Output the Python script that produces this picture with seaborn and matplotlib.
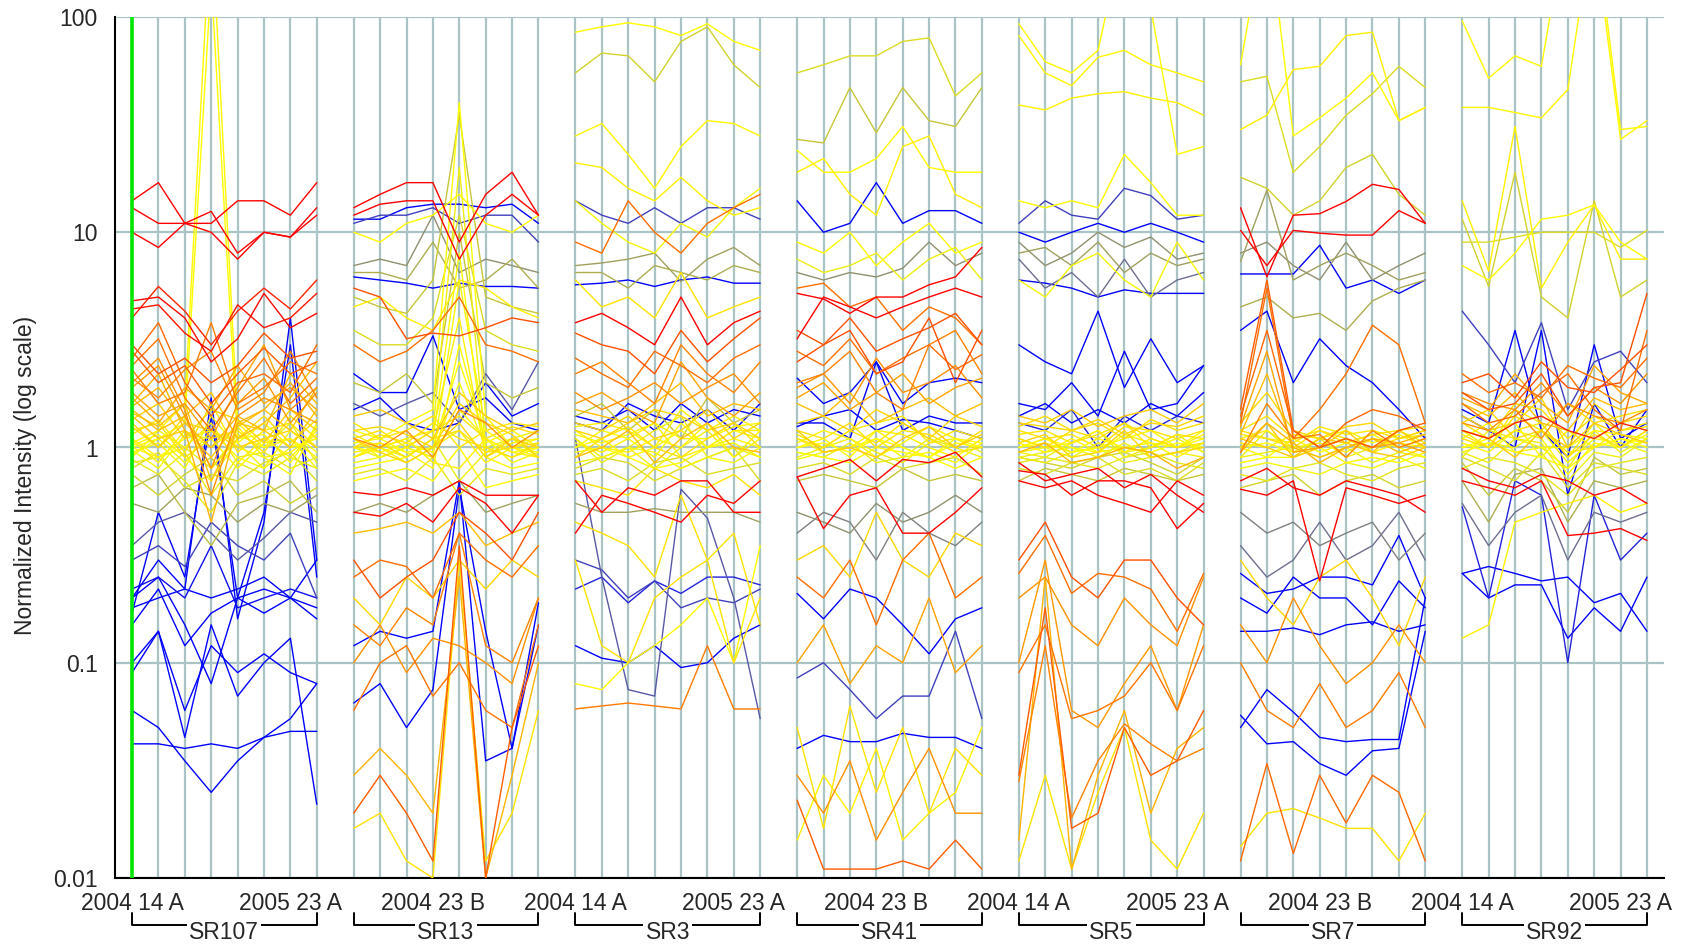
import matplotlib
matplotlib.use("Agg")
import matplotlib.pyplot as plt
import matplotlib.transforms as mtransforms
from matplotlib.colors import LinearSegmentedColormap, LogNorm
from matplotlib.ticker import LogLocator, NullFormatter
import seaborn as sns
import pandas as pd

# ---------------- data ----------------
conditions = ["2004 14 A", "2004 14 B", "2004 23 A", "2004 23 B",
              "2005 14 A", "2005 14 B", "2005 23 A", "2005 23 B"]
samples = ["SR107", "SR13", "SR3", "SR41", "SR5", "SR7", "SR92"]
ytick_values = [0.01, 0.1, 1, 10, 100]
ytick_labels = ["0.01", "0.1", "1", "10", "100"]
# which condition labels are printed under each sample
shown_labels = {"SR107": [0, 6], "SR13": [3], "SR3": [0, 6], "SR41": [3],
                "SR5": [0, 6], "SR7": [3], "SR92": [0, 6]}

# genes are coloured by their value in SR107 / 2004 14 A (the green marker)
SR107_vals = [
    [14, 17, 11, 11, 14, 14, 12, 17],
    [13, 11, 11, 12.5, 8.0, 10, 9.5, 13],
    [10, 8.5, 11, 10, 7.5, 10, 9.5, 12],
    [4.0, 5.6, 4.3, 3.0, 4.3, 5.5, 4.4, 6.0],
    [4.8, 5.0, 4.0, 2.5, 3.2, 5.2, 3.6, 4.2],
    [4.4, 4.6, 3.4, 2.8, 4.6, 3.6, 4.0, 5.2],
    [3.0, 2.2, 2.6, 2.0, 2.4, 3.4, 2.6, 2.8],
    [2.6, 3.8, 2.0, 1.4, 2.0, 2.2, 1.8, 3.0],
    [2.3, 1.6, 1.8, 3.8, 1.6, 1.9, 2.5, 2.2],
    [2.0, 2.6, 1.5, 0.6, 1.4, 1.7, 1.5, 1.9],
    [1.8, 1.4, 1.6, 1.1, 1.9, 3.0, 1.5, 1.3],
    [1.6, 2.2, 1.2, 0.45, 1.3, 1.5, 2.0, 1.4],
    [1.5, 1.2, 1.4, 1.8, 1.1, 1.3, 1.7, 2.5],
    [1.4, 1.1, 1.2, 0.9, 1.3, 1.2, 1.0, 1.5],
    [1.3, 1.0, 1.3, 1.2, 1.0, 1.1, 1.2, 1.0],
    [1.2, 1.3, 0.9, 1.1, 1.2, 0.95, 1.4, 1.1],
    [1.1, 0.9, 1.0, 1.3, 0.85, 1.1, 0.9, 1.2],
    [1.05, 1.2, 1.6, 300, 1.3, 1.0, 1.1, 0.9],
    [1.0, 1.1, 1.3, 150, 1.05, 1.3, 1.0, 1.1],
    [1.0, 0.9, 1.1, 1.2, 0.9, 0.8, 1.2, 0.95],
    [0.95, 1.05, 0.8, 1.4, 1.0, 0.9, 0.75, 1.3],
    [0.9, 1.2, 1.0, 0.8, 1.15, 1.0, 1.3, 0.85],
    [0.85, 0.9, 0.7, 0.5, 0.85, 0.75, 0.9, 0.8],
    [0.75, 0.6, 0.75, 0.9, 0.6, 0.7, 0.55, 0.65],
    [0.65, 0.75, 0.5, 0.35, 0.55, 0.6, 0.7, 0.5],
    [0.55, 0.5, 0.65, 0.6, 0.45, 0.55, 0.5, 0.6],
    [0.2, 0.3, 0.22, 1.7, 0.16, 0.45, 4.0, 0.3],
    [0.17, 0.5, 0.25, 1.4, 0.2, 0.5, 3.0, 0.25],
    [0.35, 0.45, 0.5, 0.4, 0.3, 0.38, 0.5, 0.45],
    [0.3, 0.35, 0.28, 0.45, 0.35, 0.3, 0.4, 0.2],
    [0.22, 0.25, 0.2, 0.35, 0.18, 0.2, 0.22, 0.2],
    [0.2, 0.25, 0.15, 0.08, 0.2, 0.22, 0.2, 0.16],
    [0.18, 0.2, 0.22, 0.2, 0.22, 0.25, 0.2, 0.18],
    [0.15, 0.22, 0.12, 0.17, 0.2, 0.17, 0.2, 0.3],
    [0.1, 0.14, 0.06, 0.12, 0.09, 0.11, 0.09, 0.08],
    [0.09, 0.14, 0.045, 0.15, 0.07, 0.1, 0.13, 0.022],
    [0.06, 0.05, 0.035, 0.025, 0.035, 0.045, 0.055, 0.08],
    [0.042, 0.042, 0.04, 0.042, 0.04, 0.045, 0.048, 0.048],
    # dense core
    [2.8, 2.0, 2.4, 1.6, 2.2, 2.9, 2.2, 2.5],
    [2.4, 3.2, 1.7, 1.2, 1.8, 2.6, 1.6, 2.1],
    [2.1, 1.7, 2.3, 2.8, 1.5, 1.8, 2.8, 1.7],
    [1.9, 2.4, 1.4, 0.8, 1.6, 2.1, 1.3, 1.8],
    [1.7, 1.3, 1.9, 1.5, 2.4, 1.6, 1.9, 1.5],
    [1.55, 1.9, 1.3, 1.0, 1.4, 1.2, 2.2, 1.6],
    [1.45, 1.25, 1.6, 0.7, 1.25, 1.5, 1.2, 1.9],
    [1.35, 1.6, 1.1, 1.5, 1.35, 1.05, 1.5, 1.2],
    [1.25, 1.0, 1.4, 0.8, 1.1, 1.4, 1.05, 1.35],
    [1.15, 1.35, 0.95, 1.6, 0.95, 1.2, 1.3, 1.0],
    [1.08, 0.85, 1.2, 1.0, 1.25, 0.9, 0.95, 1.15],
    [1.02, 1.15, 0.9, 0.7, 1.1, 1.15, 0.85, 1.25],
    [0.97, 0.8, 1.15, 1.1, 0.8, 1.05, 1.1, 0.8],
    [0.92, 1.1, 0.85, 1.2, 1.05, 0.8, 1.0, 1.1],
    [0.88, 0.75, 0.95, 0.6, 0.9, 0.95, 0.8, 0.9],
    [0.8, 0.95, 0.65, 0.75, 0.7, 0.85, 0.95, 0.7],
]
SR107_ref = [v[0] for v in SR107_vals]

SR13_ref = [14, 12, 0.15, 0.3, 0.5, 0.6, 0.12, 0.7, 1.0, 0.9, 0.8, 0.1, 0.2, 0.35,
            2.0, 1.2, 1.1, 1.3, 0.95, 5, 6, 0.55, 1.5, 2.5, 2.2, 0.09, 0.12, 2.8,
            1.6, 1.2, 2.0, 2.4, 1.3, 3.0, 1.0, 1.1, 2.5, 3.0,
            1.0, 1.1, 0.95, 1.2, 1.05, 0.9, 1.3, 1.0, 1.15, 0.85, 1.4, 1.0, 0.98,
            1.1, 0.7, 1.2]
SR13_vals = [
    [13, 15, 17, 17, 9, 15, 19, 12],
    [12, 13.5, 14, 14, 7.5, 12, 15, 12],
    [11.5, 11.5, 13, 13.5, 13.5, 13, 13.5, 11],
    [11, 12, 12, 13, 11, 12, 12, 9],
    [7, 7.5, 7, 12, 6.5, 7.5, 7, 6.5],
    [6.5, 6.5, 6, 9, 5.5, 6, 7.5, 5.5],
    [6.2, 6, 5.8, 5.5, 5.8, 5.6, 5.6, 5.5],
    [5, 4.5, 4.2, 6, 35, 5, 4.5, 4.2],
    [1.2, 1.1, 1.3, 1.5, 40, 1.4, 1.0, 1.1],
    [1.0, 0.9, 1.0, 1.2, 20, 1.0, 1.1, 0.9],
    [3.5, 3, 3, 4, 12, 3.5, 3, 2.8],
    [2.2, 1.8, 1.8, 3.3, 1.5, 1.7, 1.3, 1.2],
    [1.5, 1.7, 1.3, 1.2, 1.3, 2.0, 1.4, 1.6],
    [1.6, 1.4, 1.6, 1.8, 1.3, 2.2, 1.5, 2.5],
    [1.1, 1.0, 1.2, 0.9, 1.5, 1.3, 1.0, 1.2],
    [1.0, 1.05, 0.9, 1.1, 1.2, 0.95, 1.0, 1.05],
    [0.9, 1.0, 1.1, 0.85, 0.8, 1.1, 0.95, 0.9],
    [1.1, 0.95, 0.85, 1.0, 1.3, 0.9, 1.1, 1.0],
    [0.85, 0.9, 1.0, 0.9, 1.5, 1.1, 0.85, 0.95],
    [0.62, 0.6, 0.65, 0.6, 0.7, 0.6, 0.6, 0.6],
    [0.5, 0.48, 0.55, 0.45, 0.65, 0.55, 0.4, 0.6],
    [0.5, 0.55, 0.5, 0.6, 0.7, 0.5, 0.55, 0.6],
    [0.4, 0.42, 0.45, 0.4, 0.5, 0.35, 0.4, 0.45],
    [0.25, 0.3, 0.28, 0.2, 0.4, 0.3, 0.25, 0.35],
    [0.15, 0.12, 0.18, 0.15, 0.4, 0.12, 0.1, 0.2],
    [0.065, 0.08, 0.05, 0.075, 0.65, 0.14, 0.04, 0.19],
    [0.12, 0.14, 0.13, 0.14, 0.7, 0.035, 0.04, 0.15],
    [0.02, 0.03, 0.02, 0.012, 0.35, 0.01, 0.05, 0.12],
    [0.03, 0.04, 0.03, 0.02, 0.25, 0.01, 0.03, 0.1],
    [0.017, 0.02, 0.012, 0.01, 0.3, 0.012, 0.02, 0.06],
    [0.1, 0.15, 0.09, 0.13, 0.12, 0.1, 0.08, 0.2],
    [0.06, 0.1, 0.12, 0.07, 0.1, 0.06, 0.05, 0.15],
    [0.2, 0.15, 0.25, 0.2, 0.3, 0.22, 0.3, 0.25],
    [0.3, 0.2, 0.25, 0.3, 0.5, 0.4, 0.3, 0.5],
    [10, 9, 11, 12, 15, 11, 10, 12],
    [4.5, 5, 4, 3.5, 6, 5.5, 4.5, 4],
    [3, 2.5, 2.8, 3.5, 5, 3, 2.8, 2.5],
    [5.5, 5, 3.2, 3.4, 3.3, 3.6, 4, 3.8],
    # dense core
    [1.05, 1.1, 0.95, 1.0, 2.5, 1.1, 0.95, 1.0],
    [0.95, 1.0, 1.1, 1.2, 4.0, 0.9, 1.05, 1.1],
    [1.1, 0.9, 1.0, 0.9, 6.0, 1.2, 1.0, 0.95],
    [1.0, 1.15, 1.05, 1.3, 1.1, 1.0, 0.9, 1.05],
    [0.9, 1.05, 0.95, 0.8, 3.0, 1.05, 1.2, 1.0],
    [1.15, 1.0, 0.9, 1.1, 0.7, 0.95, 1.1, 1.2],
    [1.2, 1.25, 1.15, 1.0, 1.6, 1.3, 1.15, 0.9],
    [0.8, 0.85, 0.9, 1.1, 8.0, 0.9, 0.8, 0.85],
    [1.3, 1.1, 1.2, 1.4, 1.0, 1.2, 1.3, 1.25],
    [0.75, 0.8, 0.7, 0.9, 0.6, 0.8, 0.75, 0.8],
    [1.4, 1.5, 1.3, 1.1, 1.8, 1.4, 1.2, 1.3],
    [0.7, 0.75, 0.8, 0.7, 1.0, 0.65, 0.7, 0.75],
    [1.0, 0.95, 1.05, 0.95, 2.0, 1.0, 0.9, 1.0],
    [0.9, 1.0, 0.85, 1.0, 1.2, 0.85, 1.0, 0.9],
    [2.0, 1.8, 2.2, 1.6, 10, 2.0, 1.7, 1.9],
    [1.1, 1.2, 1.0, 1.2, 1.4, 1.1, 1.25, 1.15],
]

SR3_ref = [1.0, 0.75, 1.05, 1.1, 0.95, 0.3, 2.5, 0.55, 0.6, 0.15, 1.2, 5, 3, 2.2,
           0.12, 0.2, 1.3, 1.0, 0.9, 1.5, 1.1, 0.8, 6, 8, 0.55, 1.2, 0.25, 0.3,
           0.12, 0.35, 1.0, 1.2, 2.3,
           1.0, 1.1, 1.2, 0.9, 1.3, 1.5, 1.8, 2.0, 1.0, 0.95, 1.05, 0.8, 1.1,
           2.5, 1.2, 0.7]
SR3_vals = [
    [85, 90, 94, 90, 82, 93, 77, 70],
    [55, 68, 66, 50, 77, 90, 60, 47],
    [28, 32, 23, 16, 25, 33, 32, 28],
    [21, 20, 16, 14, 18, 14, 12, 13],
    [14, 11, 9, 8, 11, 9.5, 13, 16],
    [14, 12, 11, 13, 11, 13, 13, 11.5],
    [9, 8, 14, 10, 8, 11, 13, 15],
    [7, 7.2, 7.5, 8, 5.9, 7.5, 8.5, 7],
    [6.5, 6.5, 5.5, 7, 6.5, 6, 7, 6.5],
    [5.7, 5.8, 6, 5.6, 6, 6.2, 5.8, 5.8],
    [6, 4.5, 5, 4, 6.5, 4, 4.5, 5],
    [3.8, 4.2, 3.6, 3.0, 5.0, 3.0, 3.8, 4.3],
    [3.4, 3.0, 2.8, 2.2, 3.5, 2.5, 3.2, 4.0],
    [2.2, 2.5, 2.0, 1.6, 3.0, 2.2, 1.8, 2.5],
    [1.4, 1.3, 1.5, 1.2, 1.6, 1.3, 1.5, 1.4],
    [1.3, 1.2, 1.6, 1.4, 1.3, 1.5, 1.2, 1.6],
    [1.2, 1.1, 1.3, 1.5, 1.4, 1.2, 1.3, 1.1],
    [1.0, 1.1, 0.9, 1.0, 1.2, 1.0, 1.1, 1.0],
    [1.1, 0.9, 1.0, 0.8, 1.0, 1.2, 0.9, 1.1],
    [0.9, 1.0, 1.2, 0.85, 1.1, 1.3, 1.0, 0.95],
    [1.05, 0.95, 1.1, 1.3, 0.9, 1.0, 1.2, 1.2],
    [0.8, 0.9, 0.85, 0.7, 0.8, 0.9, 1.0, 0.7],
    [0.7, 0.5, 0.65, 0.6, 0.7, 0.7, 0.5, 0.5],
    [0.4, 0.6, 0.55, 0.5, 0.45, 0.6, 0.55, 0.7],
    [0.55, 0.5, 0.5, 0.52, 0.5, 0.5, 0.5, 0.45],
    [0.45, 0.4, 0.35, 0.25, 0.6, 0.3, 0.4, 0.15],
    [0.22, 0.25, 0.19, 0.24, 0.21, 0.25, 0.25, 0.23],
    [0.3, 0.27, 0.2, 0.24, 0.18, 0.2, 0.19, 0.22],
    [0.12, 0.105, 0.1, 0.12, 0.095, 0.1, 0.13, 0.15],
    [1.1, 0.25, 0.075, 0.07, 0.64, 0.47, 0.2, 0.055],
    [0.08, 0.075, 0.1, 0.12, 0.15, 0.2, 0.1, 0.35],
    [0.3, 0.12, 0.1, 0.2, 0.25, 0.3, 0.1, 0.2],
    [0.061, 0.063, 0.065, 0.063, 0.061, 0.12, 0.061, 0.061],
    # dense core
    [1.0, 1.2, 1.1, 0.9, 1.3, 1.0, 1.2, 1.1],
    [1.2, 1.0, 0.95, 1.1, 1.0, 1.3, 0.9, 1.2],
    [0.9, 1.1, 1.25, 1.0, 0.9, 1.1, 1.3, 1.0],
    [1.1, 0.85, 1.0, 1.2, 1.4, 0.9, 1.0, 0.9],
    [1.3, 1.2, 1.4, 1.1, 1.2, 1.5, 1.1, 1.3],
    [1.5, 1.4, 1.3, 1.6, 2.0, 1.4, 1.6, 1.5],
    [1.6, 1.8, 1.5, 1.3, 2.5, 1.7, 1.4, 1.8],
    [1.8, 1.5, 1.7, 2.0, 1.6, 1.9, 2.2, 1.6],
    [0.95, 1.0, 0.9, 0.8, 0.85, 1.0, 1.05, 0.9],
    [0.85, 0.9, 1.0, 0.95, 0.8, 0.9, 0.85, 1.0],
    [1.15, 1.05, 1.15, 1.3, 1.1, 1.1, 1.25, 1.3],
    [0.75, 0.8, 0.7, 0.85, 0.9, 0.75, 0.8, 0.85],
    [1.25, 1.3, 1.2, 1.0, 1.5, 1.2, 1.4, 1.2],
    [2.6, 2.2, 1.9, 2.8, 2.4, 2.0, 2.6, 3.0],
    [0.7, 0.65, 0.6, 0.8, 0.7, 0.65, 0.75, 0.6],
    [1.4, 1.6, 1.2, 1.5, 1.1, 1.7, 1.3, 1.5],
]

SR41_ref = [0.8, 0.7, 1.0, 1.1, 0.15, 1.0, 0.9, 0.5, 5, 6, 2.5, 3, 2.2, 0.12,
            0.18, 0.2, 1.2, 1.0, 0.9, 1.4, 7, 8, 0.5, 0.45, 1.3, 2.5, 0.15, 0.3,
            0.12, 1.8, 1.2, 2.8, 1.1, 2.0,
            1.0, 1.1, 0.9, 1.2, 1.3, 1.5, 2.0, 2.5, 1.0, 0.8, 1.05, 0.95, 1.15,
            3.0, 1.8, 0.7]
SR41_vals = [
    [55, 60, 66, 66, 77, 80, 43, 55],
    [27, 26, 47, 29, 47, 33, 31, 47],
    [24, 19, 19, 22, 31, 20, 19, 19],
    [19, 22, 15, 12, 25, 28, 15, 13],
    [14, 10, 11, 17, 11, 12.6, 12.6, 11],
    [9, 8, 10, 7, 9, 11, 8, 9],
    [7.5, 6.5, 7, 8, 6, 7.5, 8.5, 6],
    [6.5, 6, 6.5, 6.2, 6.8, 9, 7, 8],
    [5.2, 4.9, 4.2, 5.0, 5.0, 5.7, 6.2, 8.5],
    [3.2, 5.0, 4.5, 4.0, 4.5, 5.0, 5.5, 5.0],
    [5.5, 5.8, 4.5, 5, 3.5, 4.5, 4, 3],
    [2.5, 3.0, 3.5, 2.2, 2.5, 4.0, 2.0, 3.5],
    [2.0, 2.2, 2.8, 1.8, 1.5, 3.0, 3.5, 2.2],
    [2.1, 1.6, 1.8, 2.5, 1.6, 2.0, 2.1, 2.0],
    [1.3, 1.3, 1.1, 2.5, 1.2, 1.4, 1.3, 1.3],
    [1.25, 1.4, 1.5, 1.2, 1.35, 1.3, 1.2, 1.1],
    [1.1, 1.0, 1.2, 1.05, 1.3, 1.1, 0.95, 1.0],
    [1.0, 1.1, 0.9, 1.2, 1.0, 0.9, 1.1, 1.05],
    [0.95, 0.9, 1.05, 0.85, 0.9, 1.1, 1.0, 0.9],
    [1.2, 0.95, 1.0, 0.9, 1.1, 1.25, 1.0, 1.15],
    [0.73, 0.8, 0.88, 0.7, 0.88, 0.85, 0.95, 0.73],
    [0.73, 0.42, 0.6, 0.65, 0.4, 0.4, 0.5, 0.65],
    [0.5, 0.45, 0.4, 0.55, 0.45, 0.5, 0.6, 0.5],
    [0.4, 0.5, 0.45, 0.3, 0.5, 0.4, 0.35, 0.45],
    [0.3, 0.35, 0.25, 0.5, 0.3, 0.25, 0.4, 0.35],
    [0.25, 0.2, 0.3, 0.15, 0.3, 0.4, 0.2, 0.25],
    [0.21, 0.16, 0.22, 0.2, 0.15, 0.11, 0.16, 0.18],
    [0.085, 0.1, 0.075, 0.055, 0.07, 0.07, 0.14, 0.055],
    [0.04, 0.046, 0.043, 0.043, 0.047, 0.045, 0.045, 0.04],
    [0.1, 0.15, 0.08, 0.12, 0.1, 0.2, 0.09, 0.12],
    [0.05, 0.017, 0.063, 0.025, 0.05, 0.02, 0.04, 0.03],
    [0.023, 0.011, 0.011, 0.011, 0.012, 0.011, 0.015, 0.011],
    [0.015, 0.03, 0.02, 0.04, 0.015, 0.02, 0.025, 0.05],
    [0.03, 0.02, 0.035, 0.015, 0.025, 0.04, 0.02, 0.02],
    # dense core
    [1.0, 1.05, 0.95, 1.1, 1.0, 0.9, 1.05, 1.0],
    [1.1, 0.95, 1.0, 1.2, 1.15, 1.0, 0.9, 1.1],
    [0.9, 1.0, 1.1, 0.95, 0.85, 1.05, 1.1, 0.95],
    [1.2, 1.1, 1.3, 1.0, 1.2, 1.15, 1.0, 1.2],
    [1.3, 1.4, 1.2, 1.5, 1.3, 1.1, 1.4, 1.25],
    [1.6, 1.4, 1.8, 1.3, 1.5, 1.7, 1.4, 1.6],
    [1.9, 2.2, 1.6, 2.6, 1.8, 2.0, 2.4, 1.7],
    [2.8, 2.4, 3.2, 2.2, 2.6, 3.0, 2.3, 2.7],
    [0.95, 0.9, 0.85, 1.0, 0.95, 0.9, 0.8, 0.9],
    [0.8, 0.85, 0.75, 0.9, 0.8, 0.85, 0.9, 0.75],
    [1.05, 1.2, 1.1, 0.9, 1.05, 1.25, 1.1, 1.0],
    [0.88, 0.95, 1.0, 1.1, 0.9, 0.95, 0.85, 1.05],
    [1.15, 1.0, 1.2, 1.3, 1.4, 1.05, 1.2, 1.1],
    [3.5, 3.0, 4.0, 2.8, 3.2, 3.6, 4.2, 3.0],
    [1.7, 2.0, 1.5, 1.8, 2.2, 1.6, 1.9, 2.1],
    [0.7, 0.75, 0.7, 0.65, 0.8, 0.7, 0.75, 0.7],
]

SR5_ref = [1.0, 1.05, 1.1, 1.0, 0.95, 0.3, 0.2, 0.5, 0.55, 0.4, 0.15, 0.18, 0.12,
           0.2, 0.25, 1.2, 1.0, 0.9, 1.3, 0.75, 6, 8, 5, 2.5, 3, 2.0, 2.8, 2.2,
           1.6, 2.4, 1.2, 1.9,
           1.0, 1.1, 0.9, 1.2, 1.3, 0.95, 1.05, 1.15, 0.85, 0.8, 1.4, 1.0, 1.25,
           0.9, 1.6, 0.7]
SR5_vals = [
    [93, 62, 55, 70, 250, 110, 23, 25],
    [82, 55, 48, 65, 70, 60, 55, 50],
    [39, 37, 42, 44, 45, 42, 40, 35],
    [14, 13, 14, 13, 23, 17, 12, 12],
    [6, 5, 7, 8, 6, 5, 9, 6],
    [11, 14, 12, 11.5, 16, 14.8, 11.5, 12],
    [10, 9, 10, 11, 10, 11, 10, 9],
    [9, 7, 8, 10, 8.5, 9.5, 7.5, 8],
    [8, 8.5, 7, 9, 6.5, 8, 7, 7.5],
    [7.5, 5.5, 6.5, 5, 7.5, 5, 6, 6.5],
    [6, 5.8, 5.5, 5, 5.4, 5.2, 5.2, 5.2],
    [3.0, 2.5, 2.2, 4.3, 1.9, 3.2, 2.0, 2.4],
    [1.6, 1.5, 2.0, 1.4, 2.8, 1.5, 1.6, 2.4],
    [1.4, 1.6, 1.3, 1.5, 1.3, 1.6, 1.4, 1.8],
    [1.3, 1.2, 1.5, 1.0, 1.4, 1.2, 1.4, 1.3],
    [1.1, 1.0, 1.2, 1.1, 1.3, 1.1, 1.0, 1.05],
    [1.0, 1.1, 0.95, 1.0, 1.1, 1.2, 1.0, 1.1],
    [0.95, 0.9, 1.05, 1.2, 0.9, 1.0, 1.15, 0.95],
    [1.05, 1.15, 0.9, 0.95, 1.2, 0.9, 0.95, 1.0],
    [0.9, 0.85, 0.8, 0.9, 0.95, 0.85, 0.75, 0.9],
    [0.78, 0.75, 0.6, 0.7, 0.7, 0.65, 0.42, 0.55],
    [0.7, 0.65, 0.7, 0.6, 0.55, 0.5, 0.7, 0.6],
    [0.85, 0.7, 0.75, 0.8, 0.65, 0.75, 0.6, 0.5],
    [0.26, 0.39, 0.21, 0.26, 0.25, 0.22, 0.14, 0.26],
    [0.3, 0.45, 0.25, 0.2, 0.3, 0.3, 0.2, 0.15],
    [0.2, 0.25, 0.15, 0.12, 0.2, 0.15, 0.12, 0.25],
    [0.03, 0.18, 0.017, 0.02, 0.05, 0.03, 0.035, 0.06],
    [0.028, 0.12, 0.019, 0.035, 0.052, 0.042, 0.035, 0.04],
    [0.015, 0.25, 0.011, 0.03, 0.06, 0.02, 0.04, 0.05],
    [0.09, 0.15, 0.055, 0.06, 0.07, 0.1, 0.06, 0.12],
    [0.012, 0.03, 0.011, 0.025, 0.05, 0.015, 0.011, 0.02],
    [0.1, 0.3, 0.06, 0.05, 0.08, 0.12, 0.06, 0.15],
    # dense core
    [1.0, 1.05, 0.95, 1.1, 1.0, 0.95, 1.05, 1.0],
    [1.1, 1.0, 1.05, 1.2, 0.95, 1.1, 1.0, 1.15],
    [0.9, 0.95, 1.0, 0.9, 1.05, 0.9, 0.95, 0.9],
    [1.2, 1.1, 1.15, 1.0, 1.25, 1.2, 1.1, 1.2],
    [1.3, 1.25, 1.2, 1.35, 1.15, 1.3, 1.25, 1.4],
    [0.95, 1.0, 0.9, 1.05, 0.95, 1.0, 1.1, 0.95],
    [1.05, 0.95, 1.1, 0.95, 1.0, 1.05, 0.9, 1.05],
    [1.15, 1.2, 1.05, 1.15, 1.3, 1.0, 1.15, 1.1],
    [0.85, 0.9, 0.85, 0.8, 0.9, 0.95, 0.85, 0.8],
    [0.8, 0.75, 0.85, 0.9, 0.75, 0.8, 0.7, 0.85],
    [1.4, 1.3, 1.5, 1.25, 1.4, 1.5, 1.3, 1.6],
    [1.0, 1.1, 1.0, 0.95, 1.15, 1.05, 1.0, 1.2],
    [1.25, 1.4, 1.2, 1.3, 1.1, 1.35, 1.2, 1.3],
    [0.9, 0.85, 0.95, 1.0, 0.85, 0.9, 0.95, 1.05],
    [0.95, 1.05, 0.85, 0.9, 1.0, 0.95, 0.8, 0.9],
    [0.7, 0.8, 0.75, 0.7, 0.8, 0.75, 0.7, 0.75],
]

SR7_ref = [0.8, 1.0, 1.1, 0.75, 14, 12, 0.55, 0.5, 0.15, 0.2, 2.8, 2.5, 0.6, 1.2,
           1.0, 0.9, 1.4, 1.6, 6, 7, 0.45, 0.4, 0.15, 0.12, 0.18, 0.09, 0.1, 2.6,
           1.2, 2.0, 1.3, 2.3,
           1.0, 1.1, 0.9, 1.2, 1.3, 1.5, 1.8, 2.2, 1.0, 0.95, 1.05, 0.85, 1.15,
           2.6, 1.4, 0.75]
SR7_vals = [
    [50, 53, 19, 25, 35, 44, 59, 47],
    [60, 300, 28, 34, 42, 55, 33, 38],
    [30, 35, 57, 59, 82, 85, 33, 38],
    [18, 16, 12, 14, 20, 23, 15, 12],
    [13, 6.2, 12, 12.2, 13.9, 16.7, 15.8, 11],
    [10.2, 7.0, 10.2, 9.9, 9.7, 9.7, 12.6, 11],
    [7.3, 15.7, 6, 7, 8, 7, 6, 6.5],
    [8, 9, 7, 6, 9, 6, 7, 8],
    [6.4, 6.4, 6.4, 8.7, 5.5, 6.0, 5.2, 6.0],
    [3.5, 4.3, 2.0, 3.2, 2.4, 2.0, 1.5, 1.1],
    [1.5, 6.0, 1.2, 1.0, 1.1, 1.0, 1.2, 1.3],
    [1.3, 5.5, 1.1, 1.5, 2.2, 3.7, 3.0, 1.3],
    [4.5, 5, 4, 4.2, 3.5, 4.8, 5.5, 6],
    [1.2, 1.1, 1.0, 1.2, 1.1, 1.0, 1.1, 1.2],
    [1.0, 0.9, 1.1, 0.95, 1.05, 1.15, 1.0, 0.9],
    [0.9, 1.2, 0.95, 1.1, 0.9, 1.0, 1.2, 1.05],
    [1.1, 1.0, 0.9, 1.0, 1.2, 0.95, 0.9, 1.0],
    [0.95, 1.3, 1.05, 0.85, 1.0, 1.1, 1.05, 1.15],
    [0.64, 0.6, 0.7, 0.24, 0.65, 0.6, 0.55, 0.6],
    [0.7, 0.8, 0.65, 0.6, 0.7, 0.65, 0.6, 0.5],
    [0.5, 0.4, 0.45, 0.35, 0.4, 0.45, 0.3, 0.4],
    [0.35, 0.25, 0.3, 0.45, 0.3, 0.35, 0.5, 0.3],
    [0.26, 0.21, 0.22, 0.25, 0.25, 0.23, 0.39, 0.2],
    [0.14, 0.14, 0.145, 0.135, 0.15, 0.155, 0.14, 0.15],
    [0.2, 0.17, 0.25, 0.2, 0.2, 0.15, 0.24, 0.18],
    [0.057, 0.042, 0.043, 0.034, 0.03, 0.039, 0.04, 0.14],
    [0.05, 0.075, 0.059, 0.045, 0.043, 0.044, 0.044, 0.2],
    [0.012, 0.034, 0.013, 0.03, 0.018, 0.03, 0.025, 0.012],
    [0.014, 0.02, 0.021, 0.019, 0.017, 0.017, 0.012, 0.02],
    [0.15, 0.1, 0.2, 0.12, 0.08, 0.1, 0.15, 0.1],
    [0.3, 0.2, 0.15, 0.25, 0.3, 0.2, 0.12, 0.25],
    [0.1, 0.06, 0.05, 0.08, 0.05, 0.06, 0.09, 0.05],
    # dense core
    [1.0, 1.05, 0.95, 1.0, 1.1, 0.95, 1.05, 1.0],
    [1.1, 1.2, 1.0, 1.05, 0.95, 1.1, 1.0, 1.1],
    [0.9, 0.95, 1.0, 0.9, 1.0, 0.85, 0.95, 0.9],
    [1.2, 1.4, 1.1, 1.2, 1.05, 1.15, 1.2, 1.25],
    [1.3, 1.8, 1.2, 1.1, 1.25, 1.3, 1.1, 1.2],
    [1.15, 2.2, 1.0, 0.9, 1.0, 1.1, 0.95, 1.05],
    [1.25, 2.8, 0.95, 1.0, 1.1, 1.0, 1.05, 0.95],
    [0.95, 1.6, 1.1, 1.15, 0.9, 1.2, 1.0, 1.1],
    [0.85, 0.9, 0.9, 1.0, 0.85, 0.9, 0.85, 0.95],
    [0.8, 0.85, 0.8, 0.75, 0.85, 0.8, 0.9, 0.8],
    [1.05, 1.0, 1.15, 1.1, 1.2, 1.05, 1.15, 1.0],
    [0.75, 0.7, 0.8, 0.85, 0.75, 0.7, 0.8, 0.85],
    [1.15, 1.1, 1.05, 1.25, 1.15, 1.2, 1.1, 1.15],
    [1.4, 3.5, 1.2, 1.0, 1.3, 1.5, 1.4, 1.2],
    [1.0, 1.3, 0.9, 1.1, 1.05, 0.95, 1.2, 1.0],
    [0.65, 0.7, 0.75, 0.6, 0.7, 0.75, 0.65, 0.7],
]

SR92_ref = [1.0, 1.05, 1.1, 0.75, 0.8, 1.0, 0.3, 0.15, 0.2, 3, 2.5, 2.0, 1.2, 1.0,
            0.9, 1.4, 0.7, 0.6, 6, 5, 0.18, 0.12, 0.25, 1.1, 0.4,
            1.0, 1.1, 0.9, 1.2, 1.3, 1.5, 2.0, 2.5, 3.0, 1.0, 0.95, 1.05, 0.85,
            1.15, 1.7, 0.8, 4.0, 1.25]
SR92_vals = [
    [96, 52, 66, 59, 300, 250, 27, 33],
    [38, 38, 36, 34, 46, 300, 30, 31],
    [14, 6.6, 31, 5.5, 9, 13.4, 7.5, 7.5],
    [11.5, 5.6, 19, 5, 4, 14, 5, 6],
    [9, 9, 9.5, 10, 10, 10, 8.5, 10.2],
    [7, 6, 8, 11.5, 12, 13.4, 9, 7.5],
    [4.3, 3.0, 2.0, 3.8, 1.5, 2.5, 2.8, 2.0],
    [1.5, 1.3, 3.5, 1.2, 0.9, 3.0, 1.1, 1.3],
    [1.4, 1.2, 1.0, 3.5, 0.6, 1.6, 1.0, 1.5],
    [1.8, 1.5, 1.6, 2.2, 1.4, 1.9, 2.0, 5.2],
    [1.6, 1.3, 1.4, 1.8, 2.2, 1.5, 1.2, 3.5],
    [1.3, 1.2, 1.5, 1.1, 1.6, 1.4, 1.3, 1.5],
    [1.1, 1.0, 1.2, 1.3, 0.9, 1.15, 1.0, 1.2],
    [1.0, 1.05, 0.95, 0.9, 0.8, 1.0, 1.1, 1.0],
    [0.95, 0.85, 1.1, 1.05, 0.7, 0.95, 0.9, 1.1],
    [1.2, 1.1, 0.9, 1.2, 1.0, 1.3, 1.15, 1.05],
    [0.85, 0.6, 0.8, 0.7, 0.5, 0.9, 0.75, 0.8],
    [0.7, 0.45, 0.75, 0.8, 0.45, 0.7, 0.65, 0.7],
    [0.7, 0.65, 0.6, 0.7, 0.39, 0.4, 0.42, 0.37],
    [0.8, 0.7, 0.65, 0.75, 0.7, 0.6, 0.65, 0.55],
    [0.26, 0.28, 0.26, 0.24, 0.25, 0.19, 0.21, 0.14],
    [0.26, 0.2, 0.23, 0.23, 0.13, 0.18, 0.14, 0.25],
    [0.53, 0.2, 0.7, 0.6, 0.1, 0.6, 0.3, 0.4],
    [0.13, 0.15, 0.45, 0.5, 0.55, 0.6, 0.5, 0.55],
    [0.55, 0.35, 0.5, 0.6, 0.3, 0.5, 0.45, 0.5],
    # dense core
    [1.0, 1.1, 1.3, 0.9, 1.2, 1.0, 1.1, 1.05],
    [1.2, 1.0, 1.5, 1.3, 0.9, 1.3, 1.0, 1.2],
    [0.9, 1.2, 1.1, 1.0, 0.8, 1.2, 0.95, 1.1],
    [1.3, 1.1, 1.6, 1.5, 1.1, 1.4, 1.2, 1.3],
    [1.4, 1.2, 1.3, 1.7, 1.0, 1.6, 1.3, 1.4],
    [1.6, 1.4, 1.8, 1.3, 1.2, 1.7, 1.5, 1.6],
    [1.8, 1.6, 1.5, 2.0, 1.4, 1.9, 1.6, 2.2],
    [2.2, 1.8, 2.0, 1.7, 2.4, 2.1, 1.9, 2.6],
    [2.0, 2.2, 1.7, 2.5, 1.9, 1.8, 2.3, 3.0],
    [1.05, 0.95, 1.2, 1.1, 0.75, 1.05, 1.0, 1.15],
    [0.95, 1.05, 1.0, 1.2, 0.85, 1.1, 1.05, 0.95],
    [1.1, 1.3, 0.95, 1.0, 1.0, 1.2, 1.15, 1.1],
    [0.8, 0.9, 0.85, 0.75, 0.6, 0.8, 0.85, 0.9],
    [1.15, 1.0, 1.4, 1.2, 0.95, 1.0, 1.2, 1.25],
    [1.7, 1.5, 2.2, 1.6, 1.3, 2.4, 1.8, 1.6],
    [0.9, 0.8, 0.7, 0.95, 0.65, 0.85, 0.8, 0.75],
    [1.2, 1.1, 1.3, 1.4, 1.2, 1.1, 1.3, 1.2],
    [1.3, 1.5, 1.1, 1.2, 1.6, 1.3, 1.4, 1.5],
]

panel_data = {
    "SR107": (SR107_ref, SR107_vals), "SR13": (SR13_ref, SR13_vals),
    "SR3": (SR3_ref, SR3_vals), "SR41": (SR41_ref, SR41_vals),
    "SR5": (SR5_ref, SR5_vals), "SR7": (SR7_ref, SR7_vals),
    "SR92": (SR92_ref, SR92_vals),
}

# ---------------- layout constants ----------------
PERIOD = 8.4           # spacing of panels in condition units (7 steps + gap)
W, H, DPI = 1691, 946, 100

rows = []
line_id = 0
for p, name in enumerate(samples):
    refs, vals = panel_data[name]
    for r, v in zip(refs, vals):
        for c, val in enumerate(v):
            rows.append({"sample": name, "cond": c, "xpos": p * PERIOD + c,
                         "value": val, "ref": r, "line": line_id})
        line_id += 1
df = pd.DataFrame(rows)

sns.set_style("white")
plt.rcParams["font.family"] = ["Liberation Sans", "DejaVu Sans"]

cmap = LinearSegmentedColormap.from_list(
    "genespring", [(0, (0, 0, 1)), (0.5, (1, 1, 0)), (1, (1, 0, 0))])
norm = LogNorm(vmin=0.2, vmax=5, clip=True)

fig = plt.figure(figsize=(W / DPI, H / DPI), dpi=DPI, facecolor="white")
ax = fig.add_axes([115 / W, (H - 878) / H, (1664 - 115) / W, (878 - 17) / H])
ax.set_facecolor("white")

grid_c = "#aac4c6"
ax.set_yscale("log")
sns.lineplot(data=df, x="xpos", y="value", hue="ref", units="line",
             estimator=None, sort=False, palette=cmap, hue_norm=norm,
             legend=False, lw=1.0, ax=ax, zorder=3)

ax.set_ylim(0.01, 100)
ax.set_xlim(-0.645, (len(samples) - 1) * PERIOD + 7 + 0.645)

# x ticks: one per condition per sample
xt, xl = [], []
for p, name in enumerate(samples):
    for c, cond in enumerate(conditions):
        xt.append(p * PERIOD + c)
        xl.append(cond if c in shown_labels[name] else "")
ax.set_xticks(xt)
ax.set_xticklabels(xl, fontsize=16.5)
ax.set_xlabel("")

ax.set_yticks(ytick_values)
ax.set_yticklabels(ytick_labels, fontsize=16.5)
ax.yaxis.set_minor_locator(LogLocator(base=10, subs=range(2, 10)))
ax.yaxis.set_minor_formatter(NullFormatter())
ax.tick_params(axis="y", which="major", length=11, width=1.3, pad=1.5, color="black")
ax.tick_params(axis="y", which="minor", length=6, width=1.3, color="black")
ax.tick_params(axis="x", which="major", length=5, width=1.3, pad=5, color="black")
ax.set_ylabel("Normalized Intensity (log scale)", fontsize=16.5)
ax.yaxis.set_label_coords(-0.0504, 0.467)

ax.grid(True, which="major", axis="both", color=grid_c, lw=1.6, zorder=0)
ax.set_axisbelow(True)
for s in ["top", "right"]:
    ax.spines[s].set_visible(False)
for s in ["left", "bottom"]:
    ax.spines[s].set_color("black")
    ax.spines[s].set_linewidth(1.5)

# colour-by condition marker
ax.axvline(0, color="#00e600", lw=2.6, zorder=6)

# sample brackets under the axis
trans = mtransforms.blended_transform_factory(ax.transData, ax.transAxes)
def yfrac(py):
    return (878 - py) / 861.0
y_top, y_line, y_txt = yfrac(913), yfrac(925), yfrac(932)
for p, name in enumerate(samples):
    x0, x1 = p * PERIOD, p * PERIOD + 7
    ax.plot([x0, x0, x1, x1], [y_top, y_line, y_line, y_top], color="black",
            lw=1.4, transform=trans, clip_on=False, zorder=2)
    ax.text((x0 + x1) / 2, y_txt, name, transform=trans, ha="center", va="center",
            fontsize=16.5, zorder=3,
            bbox=dict(facecolor="white", edgecolor="none", pad=1.5))

fig.savefig("out.png", dpi=DPI, facecolor="white")
